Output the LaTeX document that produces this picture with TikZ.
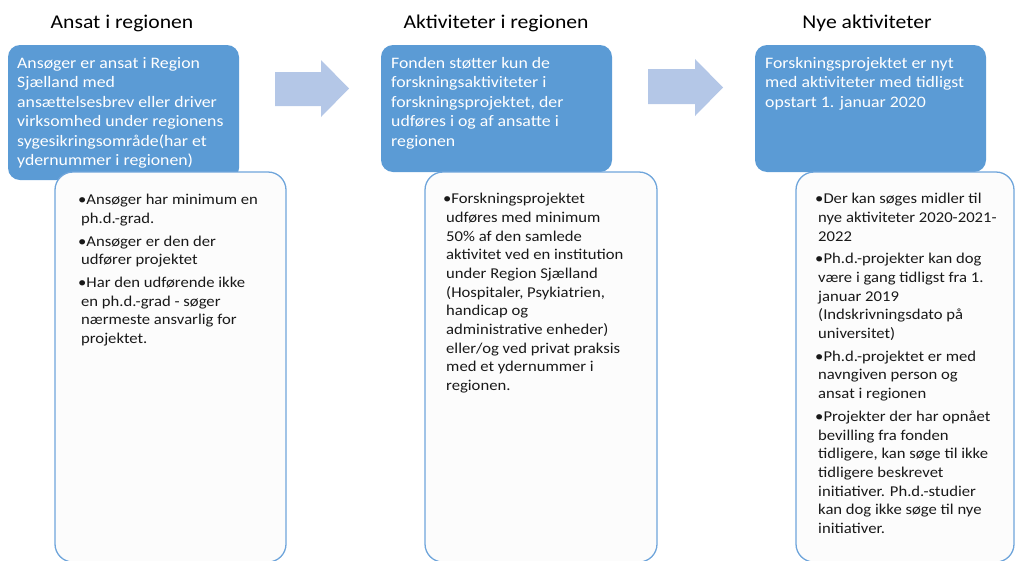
\documentclass[tikz,border=0pt]{standalone}
\usepackage{fontspec}
\setmainfont{Carlito}[FakeStretch=1.11]
\definecolor{accent}{HTML}{5B9BD5}
\definecolor{arrowc}{HTML}{B4C7E7}
\definecolor{wborder}{HTML}{6FA5DB}
\definecolor{wfill}{HTML}{FCFCFC}
\newcommand\ind{\hspace*{3pt}}
\begin{document}
\begin{tikzpicture}[x=1pt,y=-1pt,
  title/.style={font=\fontsize{19.5}{24}\selectfont, anchor=base, inner sep=0pt, text=black},
  bluebox/.style={fill=accent, rounded corners=12pt, inner sep=0pt, draw=none},
  whitebox/.style={fill=wfill, draw=wborder, line width=1.3pt, rounded corners=18pt, inner sep=0pt},
  bluetext/.style={text=white, font=\fontsize{16}{19.5}\selectfont, align=left, anchor=north west, inner sep=0pt},
  listtext/.style={font=\fontsize{15}{18.7}\selectfont, align=left, anchor=north west, inner sep=0pt, text=black!90},
  blockarrow/.style={fill=arrowc, draw=none}]
\useasboundingbox (0,0) rectangle (1016,560);
\begin{scope}
\clip (0,0) rectangle (1016,560);
% titles
\node[title] (t1) at (122,28) {Ansat i regionen};
\node[title] (t2) at (496,28) {Aktiviteter i regionen};
\node[title] (t3) at (867,28) {Nye aktiviteter};
% blue boxes
\node[bluebox, minimum width=231pt, minimum height=135pt] (b1) at (123.5,112.5) {};
\node[bluebox, minimum width=231pt, minimum height=127pt] (b2) at (496.5,108.5) {};
\node[bluebox, minimum width=231pt, minimum height=127pt] (b3) at (870.5,108.5) {};
% white boxes
\node[whitebox, minimum width=231pt, minimum height=390pt] (w1) at (170.5,367) {};
\node[whitebox, minimum width=232pt, minimum height=390pt] (w2) at (541,367) {};
\node[whitebox, minimum width=218pt, minimum height=390pt] (w3) at (905,367) {};
% arrows
\fill[blockarrow] (275,72) -- (321,72) -- (321,60) -- (349,88.5) -- (321,117) -- (321,106) -- (275,106) -- cycle;
\fill[blockarrow] (648,69) -- (695,69) -- (695,59) -- (723,87.5) -- (695,116) -- (695,104) -- (648,104) -- cycle;
% blue texts
\node[bluetext] (bt1) at (17,57) {Ansøger er ansat i Region\\Sjælland med\\ansættelsesbrev eller driver\\virksomhed under regionens\\sygesikringsområde(har et\\ydernummer i regionen)};
\node[bluetext] (bt2) at (391,57) {Fonden støtter kun de\\forskningsaktiviteter i\\forskningsprojektet, der\\udføres i og af ansatte i\\regionen};
\node[bluetext] (bt3) at (765,57) {Forskningsprojektet er nyt\\med aktiviteter med tidligst\\opstart 1. januar 2020};
% list texts
\node[listtext] (lt1) at (78,194) {•Ansøger har minimum en\\\ind ph.d.-grad.\\[4pt]•Ansøger er den der\\\ind udfører projektet\\[4pt]•Har den udførende ikke\\\ind en ph.d.-grad - søger\\\ind nærmeste ansvarlig for\\\ind projektet.};
\node[listtext] (lt2) at (443,193) {•Forskningsprojektet\\\ind udføres med minimum\\\ind 50\% af den samlede\\\ind aktivitet ved en institution\\\ind under Region Sjælland\\\ind (Hospitaler, Psykiatrien,\\\ind handicap og\\\ind administrative enheder)\\\ind eller/og ved privat praksis\\\ind med et ydernummer i\\\ind regionen.};
\node[listtext] (lt3) at (815,193) {•Der kan søges midler til\\\ind nye aktiviteter 2020-2021-\\\ind 2022\\[4pt]•Ph.d.-projekter kan dog\\\ind være i gang tidligst fra 1.\\\ind januar 2019\\\ind (Indskrivningsdato på\\\ind universitet)\\[4pt]•Ph.d.-projektet er med\\\ind navngiven person og\\\ind ansat i regionen\\[4pt]•Projekter der har opnået\\\ind bevilling fra fonden\\\ind tidligere, kan søge til ikke\\\ind tidligere beskrevet\\\ind initiativer. Ph.d.-studier\\\ind kan dog ikke søge til nye\\\ind initiativer.};
\end{scope}
\end{tikzpicture}
\end{document}
